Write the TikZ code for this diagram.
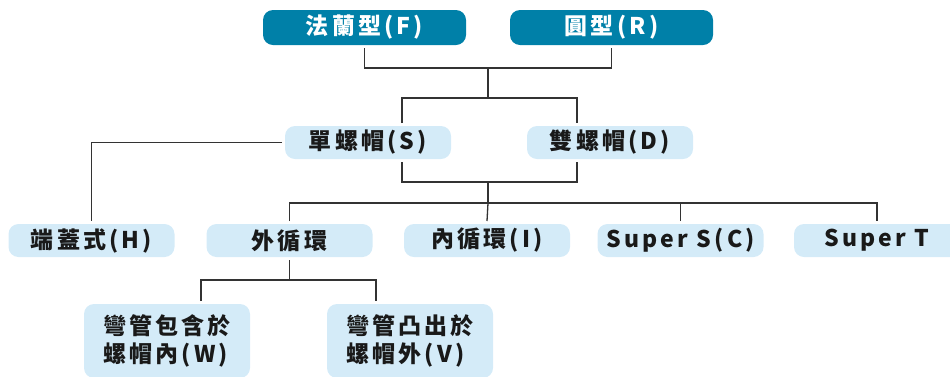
\documentclass[tikz,border=0pt]{standalone}
\usepackage{fontspec}
\newfontfamily\cjk[LetterSpace=14]{Noto Sans CJK TC}
\definecolor{tealnode}{HTML}{0080A8}
\definecolor{lightnode}{HTML}{D4EBF8}
\definecolor{linegray}{HTML}{333333}

\begin{document}
\begin{tikzpicture}[x=1pt,y=-1pt,
    main node/.style={rectangle,rounded corners=10pt,minimum width=166pt,minimum height=33pt,inner sep=0pt,outer sep=3pt,font=\cjk\bfseries\fontsize{23}{28}\selectfont},
    top node/.style={main node,fill=tealnode,text=white,minimum width=203pt,minimum height=35pt},
    sub node/.style={main node,fill=lightnode,text=black!90},
    link/.style={draw=linegray,line width=1.3pt}]
    \useasboundingbox (0,0) rectangle (950,376);
    % top
    \node[top node] (F) at (364.5,27.5) {法蘭型(F)};
    \node[top node] (R) at (611.5,27.5) {圓型(R)};
    % nuts
    \node[sub node] (S) at (368,142.5) {單螺帽(S)};
    \node[sub node] (D) at (610,142.5) {雙螺帽(D)};
    % row 3
    \node[sub node] (H) at (91.5,240.5) {端蓋式(H)};
    \node[sub node] (Out) at (289.5,240.5) {外循環};
    \node[sub node] (In) at (487,240.5) {內循環(I)};
    \node[sub node] (SC) at (680.5,240.5) {Super S(C)};
    \node[sub node] (ST) at (877,240.5) {Super T};
    % row 4
    \node[sub node,align=left,minimum height=74pt] (W) at (167,341) {彎管包含於\\螺帽內(W)};
    \node[sub node,align=left,minimum height=74pt] (V) at (410,341) {彎管凸出於\\螺帽外(V)};
    % junctions
    \coordinate (j1) at (488,68);
    \coordinate (j2) at (488,98);
    \coordinate (s2) at (402,98);
    \coordinate (d2) at (577,98);
    \coordinate (s3) at (402,182);
    \coordinate (d3) at (577,182);
    \coordinate (j3) at (488,182);
    \coordinate (j4) at (488,203);
    \coordinate (j5) at (289.5,280);
    \coordinate (w5) at (201,280);
    \coordinate (v5) at (376,280);
    % connectors
    \draw[link] (F.south) |- (j1) -| (R.south);
    \draw[link] (j1) -- (j2);
    \draw[link] (s2 |- S.north) -- (s2) -- (d2) -- (d2 |- D.north);
    \draw[link] (S.west) -| (H.north);
    \draw[link] (s3 |- S.south) -- (s3) -- (d3) -- (d3 |- D.south);
    \draw[link] (j3) -- (j4);
    \draw[link] (Out.north) |- (j4) -| (ST.north);
    \draw[link] (j4) -- (In.north);
    \draw[link] (SC.north) -- (SC.north |- j4);
    \draw[link] (Out.south) -- (j5);
    \draw[link] (w5 |- W.north) -- (w5) -- (v5) -- (v5 |- V.north);
\end{tikzpicture}
\end{document}
